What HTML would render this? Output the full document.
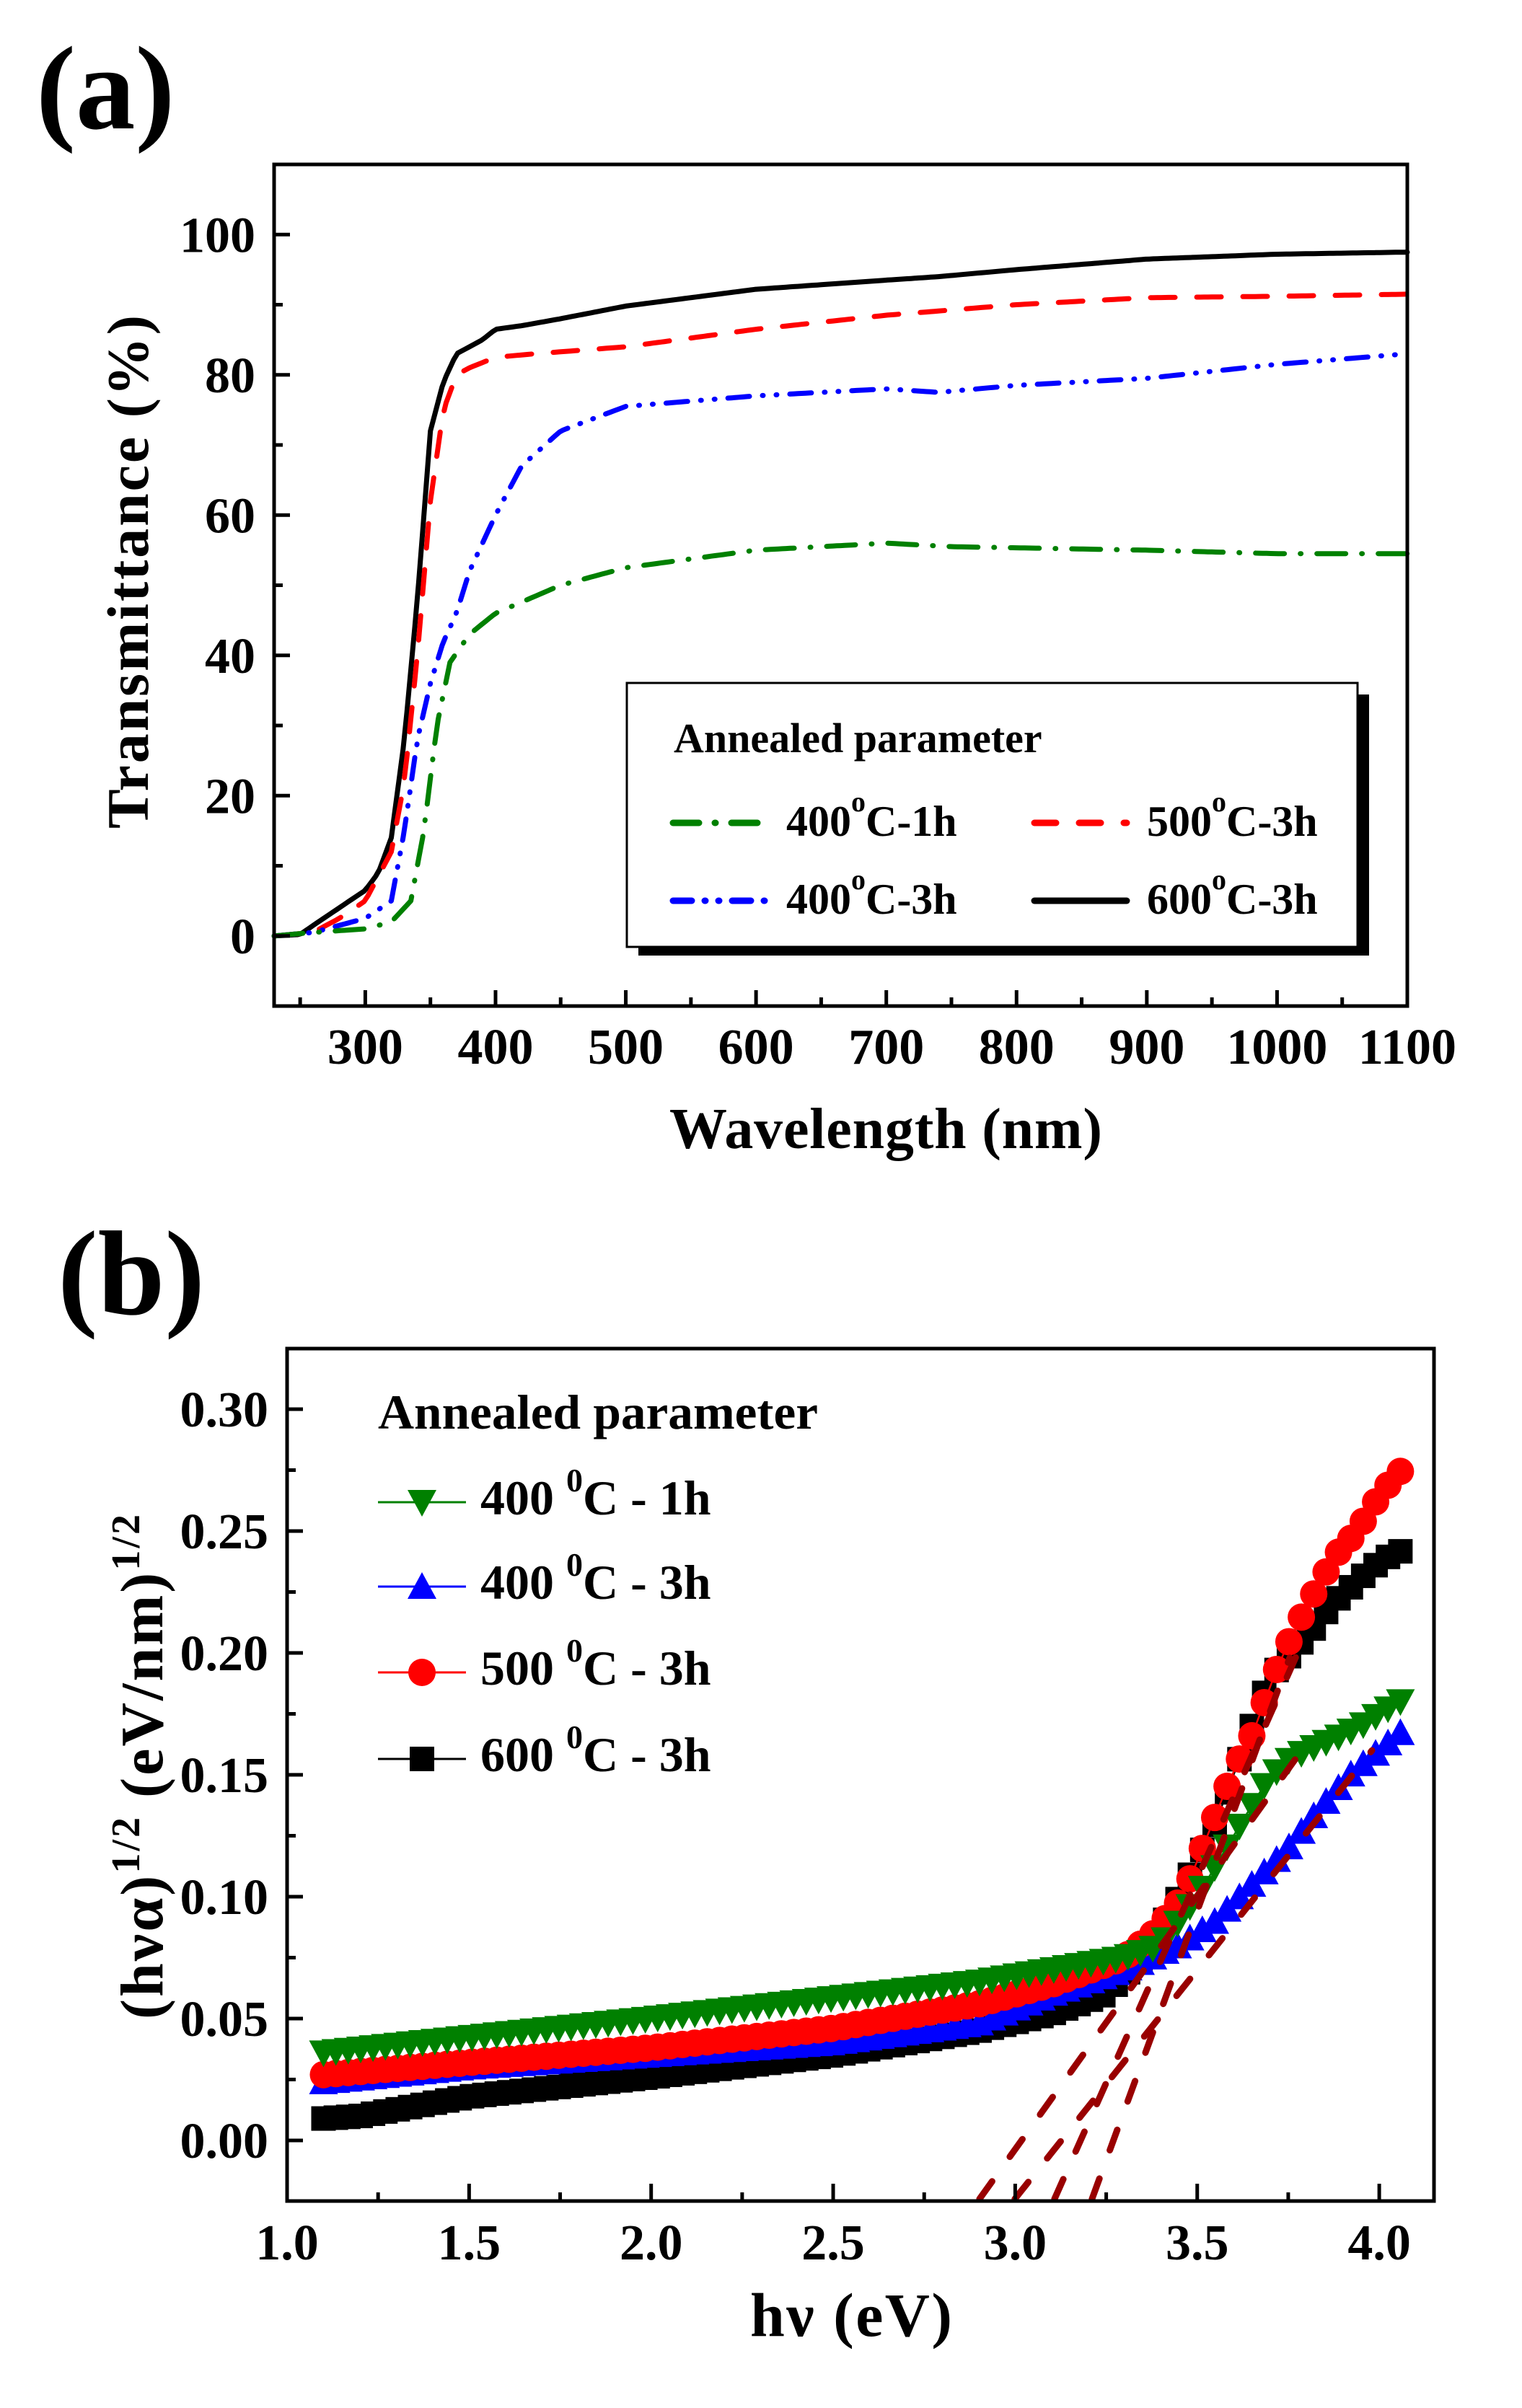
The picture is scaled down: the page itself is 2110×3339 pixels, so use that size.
<!DOCTYPE html>
<html><head><meta charset="utf-8"><style>html,body{margin:0;padding:0;background:#fff}svg{display:block}</style></head>
<body>
<svg id="s" xmlns="http://www.w3.org/2000/svg" width="2110" height="3339" viewBox="0 0 2110 3339" font-family="Liberation Serif, serif" font-weight="bold">
<rect width="2110" height="3339" fill="#fff"/>
<text x="50" y="178" font-size="165">(a)</text>
<text x="80" y="1822" font-size="167">(b)</text>
<text transform="translate(205,793) rotate(-90)" text-anchor="middle" font-size="82" textLength="712" lengthAdjust="spacing">Transmittance (%)</text>
<text x="1228" y="1592" text-anchor="middle" font-size="80" textLength="600" lengthAdjust="spacing">Wavelength  (nm)</text>
<text x="1180" y="3239" text-anchor="middle" font-size="86" textLength="280" lengthAdjust="spacing">hν (eV)</text>
<text transform="translate(225,2450) rotate(-90)" text-anchor="middle" font-size="84" textLength="700" lengthAdjust="spacing">(hνα)<tspan font-size="56" dy="-32">1/2</tspan><tspan dy="32"> (eV/nm)</tspan><tspan font-size="56" dy="-32">1/2</tspan></text>
<g id="g"></g>
</svg>
<script>
(function(){
var g=document.getElementById('g'),out='';
function interp(p,x){for(var i=0;i<p.length-1;i++){if(x<=p[i+1][0]){var t=(x-p[i][0])/(p[i+1][0]-p[i][0]);return p[i][1]+t*(p[i+1][1]-p[i][1]);}}return p[p.length-1][1];}
var AL=380,AR=1951,AT=228,AB=1395;
function ax(n){return AL+(n-230)*(AR-AL)/870;}
function ay(v){return AT+(110-v)*(AB-AT)/120;}
function polyA(p,col,dash){var s='';for(var n=230;n<=1100;n+=3){s+=ax(n).toFixed(1)+','+ay(interp(p,n)).toFixed(1)+' ';}
 out+='<polyline points="'+s+'" fill="none" stroke="'+col+'" stroke-width="7" stroke-linejoin="round" stroke-linecap="round"'+(dash?' stroke-dasharray="'+dash+'"':'')+'/>';}
var blk=[[230,0],[250,0.2],[260,1.5],[280,4],[300,6.5],[310,9],[320,14],[330,28],[340,48],[350,72],[360,79],[370,83],[380,84],[390,85],[400,86.5],[420,87],[450,88],[500,89.8],[550,91],[600,92.2],[700,93.5],[740,94],[800,95],[900,96.5],[1000,97.2],[1100,97.5]];
var red=[[230,0],[260,0.5],[280,2.5],[300,5],[320,12],[330,22],[340,40],[350,62],[360,75],[370,80],[380,81],[400,82.5],[430,83],[500,84],[600,86.5],[700,88.5],[800,90],[900,91],[1000,91.2],[1100,91.5]];
var blu=[[230,0],[260,0.5],[300,2.5],[320,5],[330,15],[340,28],[350,36],[360,42],[370,46],[380,52],[390,56],[400,60],[420,67],[450,72],[500,75.5],[600,77],[700,78],[740,77.5],[800,78.5],[900,79.5],[1000,81.5],[1100,83]];
var grn=[[230,0],[260,0.5],[300,1],[320,2],[335,5],[345,15],[355,30],[365,39],[380,43],[400,46],[450,50],[500,52.5],[600,55],[700,56],[750,55.5],[900,55],[1000,54.5],[1100,54.5]];
polyA(blk,'#000','');
polyA(red,'#f00','34 30');
polyA(blu,'#00f','30 18 1 18 1 18');
polyA(grn,'#008000','40 22 1 22');
out+='<rect x="'+AL+'" y="'+AT+'" width="'+(AR-AL)+'" height="'+(AB-AT)+'" fill="none" stroke="#000" stroke-width="5"/>';
for(var n=250;n<=1100;n+=50){var x=ax(n),L=(n%100==0)?22:12;out+='<line x1="'+x+'" y1="'+AB+'" x2="'+x+'" y2="'+(AB-L)+'" stroke="#000" stroke-width="5"/>';
 if(n%100==0)out+='<text x="'+x+'" y="1475" text-anchor="middle" font-size="70">'+n+'</text>';}
for(var v=0;v<=100;v+=10){var y=ay(v),L=(v%20==0)?22:12;out+='<line x1="'+AL+'" y1="'+y+'" x2="'+(AL+L)+'" y2="'+y+'" stroke="#000" stroke-width="5"/>';
 if(v%20==0)out+='<text x="354" y="'+(y+24)+'" text-anchor="end" font-size="70">'+v+'</text>';}
out+='<rect x="885" y="963" width="1013" height="362" fill="#000"/>';
out+='<rect x="869" y="947" width="1013" height="366" fill="#fff" stroke="#000" stroke-width="3"/>';
out+='<text x="934" y="1043" font-size="58">Annealed parameter</text>';
function legA(x1,y,col,dash,tx,ty,a,b){out+='<line x1="'+x1+'" y1="'+y+'" x2="'+(x1+128)+'" y2="'+y+'" stroke="'+col+'" stroke-width="9" stroke-linecap="round"'+(dash?' stroke-dasharray="'+dash+'"':'')+'/>';
 out+='<text x="'+tx+'" y="'+ty+'" font-size="60">'+a+'<tspan font-size="40" dy="-34">o</tspan><tspan dy="34">'+b+'</tspan></text>';}
legA(933,1141,'#008000','36 22 1 22','1090',1159,'400','C-1h');
legA(1434,1141,'#f00','30 32','1590',1159,'500','C-3h');
legA(933,1249,'#00f','26 18 1 18 1 18','1090',1267,'400','C-3h');
legA(1434,1249,'#000','','1590',1267,'600','C-3h');
var BL=398,BR=1988,BT=1870,BB=3052;
function bx(e){return BL+(e-1)*504.7;}
function by(v){return 2968-v*3380;}
var G=[[1.1,0.036],[2.0,0.05],[2.9,0.065],[3.3,0.075],[3.4,0.08],[3.5,0.10],[3.62,0.13],[3.68,0.145],[3.74,0.155],[3.8,0.16],[3.88,0.165],[3.95,0.17],[4.0,0.175],[4.08,0.182]];
var U=[[1.1,0.024],[1.5,0.03],[2.0,0.035],[2.5,0.04],[2.9,0.048],[3.1,0.06],[3.3,0.07],[3.45,0.08],[3.55,0.09],[3.65,0.105],[3.75,0.12],[3.83,0.135],[3.92,0.15],[4.0,0.16],[4.08,0.17]];
var R=[[1.1,0.027],[1.5,0.032],[2.0,0.038],[2.5,0.046],[2.9,0.056],[3.1,0.064],[3.3,0.075],[3.38,0.085],[3.46,0.1],[3.52,0.122],[3.56,0.137],[3.6,0.152],[3.65,0.166],[3.69,0.182],[3.73,0.198],[3.78,0.213],[3.83,0.227],[3.88,0.24],[3.94,0.25],[3.98,0.26],[4.03,0.27],[4.08,0.278]];
var K=[[1.1,0.009],[1.2,0.01],[1.5,0.018],[2.0,0.026],[2.5,0.035],[2.9,0.045],[3.1,0.052],[3.25,0.06],[3.35,0.075],[3.45,0.1],[3.55,0.13],[3.6,0.15],[3.65,0.17],[3.7,0.19],[3.76,0.2],[3.82,0.21],[3.87,0.22],[3.93,0.228],[3.98,0.235],[4.03,0.24],[4.08,0.243]];
function mk(type,x,y,col){
 if(type=='d')return '<polygon points="'+(x-20)+','+(y-17)+' '+(x+20)+','+(y-17)+' '+x+','+(y+20)+'" fill="'+col+'"/>';
 if(type=='u')return '<polygon points="'+(x-20)+','+(y+17)+' '+(x+20)+','+(y+17)+' '+x+','+(y-20)+'" fill="'+col+'"/>';
 if(type=='c')return '<circle cx="'+x+'" cy="'+y+'" r="19" fill="'+col+'"/>';
 return '<rect x="'+(x-17)+'" y="'+(y-17)+'" width="34" height="34" fill="'+col+'"/>';}
function series(p,type,col,step){var s='',m='';for(var e=1.1;e<=4.081;e+=step){var x=bx(e),y=by(interp(p,e));s+=x.toFixed(1)+','+y.toFixed(1)+' ';m+=mk(type,x,y,col);}
 out+='<polyline points="'+s+'" fill="none" stroke="'+col+'" stroke-width="2.5"/>'+m;}
series(K,'s','#000',0.034);
series(U,'u','#00f',0.034);
series(R,'c','#f00',0.034);
series(G,'d','#008000',0.034);
function fit(e1,v1,e2,v2){out+='<line x1="'+bx(e1)+'" y1="'+by(v1)+'" x2="'+bx(e2)+'" y2="'+by(v2)+'" stroke="#990000" stroke-width="9" stroke-linecap="round" stroke-dasharray="30 42"/>';}
fit(2.902,-0.024,3.782,0.159);
fit(2.999,-0.024,3.98,0.160);
fit(3.108,-0.024,3.776,0.2);
fit(3.211,-0.024,3.754,0.198);
out+='<rect x="'+BL+'" y="'+BT+'" width="'+(BR-BL)+'" height="'+(BB-BT)+'" fill="none" stroke="#000" stroke-width="5"/>';
for(var e=1.25;e<=4.1;e+=0.25){var x=bx(e),L=(Math.abs(e*2-Math.round(e*2))<0.01)?24:12;out+='<line x1="'+x+'" y1="'+BB+'" x2="'+x+'" y2="'+(BB-L)+'" stroke="#000" stroke-width="5"/>';}
for(var i=0;i<=6;i++){var e=1+i*0.5;out+='<text x="'+bx(e)+'" y="3133" text-anchor="middle" font-size="70">'+e.toFixed(1)+'</text>';}
for(var i=0;i<=12;i++){var v=i*0.025,y=by(v),L=(i%2==0)?22:12;out+='<line x1="'+BL+'" y1="'+y+'" x2="'+(BL+L)+'" y2="'+y+'" stroke="#000" stroke-width="5"/>';
 if(i%2==0)out+='<text x="372" y="'+(y+24)+'" text-anchor="end" font-size="70">'+v.toFixed(2)+'</text>';}
out+='<text x="524" y="1981" font-size="68" textLength="610" lengthAdjust="spacingAndGlyphs">Annealed parameter</text>';
function legB(y,type,col,a,b){var yc=y-17;out+='<line x1="524" y1="'+yc+'" x2="646" y2="'+yc+'" stroke="'+col+'" stroke-width="3"/>'+mk(type,585,yc,col);
 out+='<text x="666" y="'+y+'" font-size="68">'+a+' <tspan font-size="46" dy="-32">0</tspan><tspan dy="32">'+b+'</tspan></text>';}
legB(2100,'d','#008000','400','C - 1h');
legB(2217,'u','#00f','400','C - 3h');
legB(2336,'c','#f00','500','C - 3h');
legB(2456,'s','#000','600','C - 3h');
g.innerHTML=out;
})();
</script>
</body></html>
